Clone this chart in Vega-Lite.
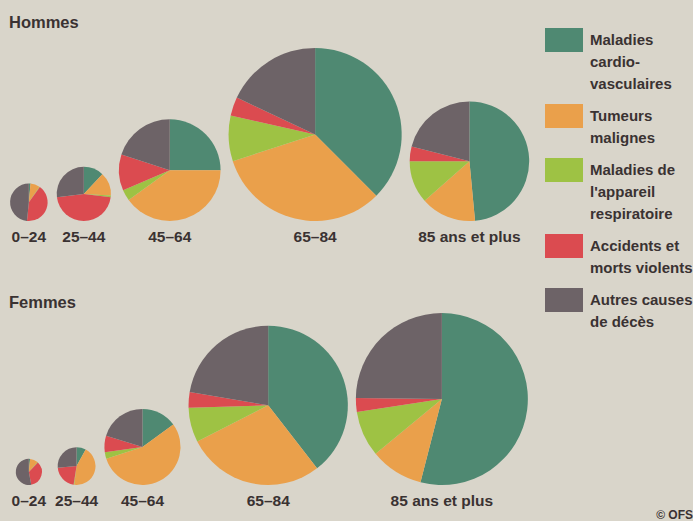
{
  "$schema": "https://vega.github.io/schema/vega-lite/v6.json",
  "background": "#d9d5ca",
  "padding": {"left": 9, "top": 14, "right": 0, "bottom": 0},
  "data": {"values": [
    {"sexe": "Hommes", "age": "0–24", "cause": "Maladies cardio-vasculaires", "deces": 10},
    {"sexe": "Hommes", "age": "0–24", "cause": "Tumeurs malignes", "deces": 56},
    {"sexe": "Hommes", "age": "0–24", "cause": "Maladies de l'appareil respiratoire", "deces": 4},
    {"sexe": "Hommes", "age": "0–24", "cause": "Accidents et morts violents", "deces": 291},
    {"sexe": "Hommes", "age": "0–24", "cause": "Autres causes de décès", "deces": 339},
    {"sexe": "Hommes", "age": "25–44", "cause": "Maladies cardio-vasculaires", "deces": 175},
    {"sexe": "Hommes", "age": "25–44", "cause": "Tumeurs malignes", "deces": 204},
    {"sexe": "Hommes", "age": "25–44", "cause": "Maladies de l'appareil respiratoire", "deces": 15},
    {"sexe": "Hommes", "age": "25–44", "cause": "Accidents et morts violents", "deces": 672},
    {"sexe": "Hommes", "age": "25–44", "cause": "Autres causes de décès", "deces": 394},
    {"sexe": "Hommes", "age": "45–64", "cause": "Maladies cardio-vasculaires", "deces": 1285},
    {"sexe": "Hommes", "age": "45–64", "cause": "Tumeurs malignes", "deces": 2056},
    {"sexe": "Hommes", "age": "45–64", "cause": "Maladies de l'appareil respiratoire", "deces": 180},
    {"sexe": "Hommes", "age": "45–64", "cause": "Accidents et morts violents", "deces": 591},
    {"sexe": "Hommes", "age": "45–64", "cause": "Autres causes de décès", "deces": 1028},
    {"sexe": "Hommes", "age": "65–84", "cause": "Maladies cardio-vasculaires", "deces": 5588},
    {"sexe": "Hommes", "age": "65–84", "cause": "Tumeurs malignes", "deces": 4842},
    {"sexe": "Hommes", "age": "65–84", "cause": "Maladies de l'appareil respiratoire", "deces": 1267},
    {"sexe": "Hommes", "age": "65–84", "cause": "Accidents et morts violents", "deces": 521},
    {"sexe": "Hommes", "age": "65–84", "cause": "Autres causes de décès", "deces": 2682},
    {"sexe": "Hommes", "age": "85 ans et plus", "cause": "Maladies cardio-vasculaires", "deces": 3444},
    {"sexe": "Hommes", "age": "85 ans et plus", "cause": "Tumeurs malignes", "deces": 1065},
    {"sexe": "Hommes", "age": "85 ans et plus", "cause": "Maladies de l'appareil respiratoire", "deces": 816},
    {"sexe": "Hommes", "age": "85 ans et plus", "cause": "Accidents et morts violents", "deces": 284},
    {"sexe": "Hommes", "age": "85 ans et plus", "cause": "Autres causes de décès", "deces": 1491},
    {"sexe": "Femmes", "age": "0–24", "cause": "Maladies cardio-vasculaires", "deces": 5},
    {"sexe": "Femmes", "age": "0–24", "cause": "Tumeurs malignes", "deces": 34},
    {"sexe": "Femmes", "age": "0–24", "cause": "Maladies de l'appareil respiratoire", "deces": 2},
    {"sexe": "Femmes", "age": "0–24", "cause": "Accidents et morts violents", "deces": 119},
    {"sexe": "Femmes", "age": "0–24", "cause": "Autres causes de décès", "deces": 180},
    {"sexe": "Femmes", "age": "25–44", "cause": "Maladies cardio-vasculaires", "deces": 57},
    {"sexe": "Femmes", "age": "25–44", "cause": "Tumeurs malignes", "deces": 312},
    {"sexe": "Femmes", "age": "25–44", "cause": "Maladies de l'appareil respiratoire", "deces": 4},
    {"sexe": "Femmes", "age": "25–44", "cause": "Accidents et morts violents", "deces": 149},
    {"sexe": "Femmes", "age": "25–44", "cause": "Autres causes de décès", "deces": 188},
    {"sexe": "Femmes", "age": "45–64", "cause": "Maladies cardio-vasculaires", "deces": 432},
    {"sexe": "Femmes", "age": "45–64", "cause": "Tumeurs malignes", "deces": 1584},
    {"sexe": "Femmes", "age": "45–64", "cause": "Maladies de l'appareil respiratoire", "deces": 81},
    {"sexe": "Femmes", "age": "45–64", "cause": "Accidents et morts violents", "deces": 199},
    {"sexe": "Femmes", "age": "45–64", "cause": "Autres causes de décès", "deces": 584},
    {"sexe": "Femmes", "age": "65–84", "cause": "Maladies cardio-vasculaires", "deces": 4985},
    {"sexe": "Femmes", "age": "65–84", "cause": "Tumeurs malignes", "deces": 3534},
    {"sexe": "Femmes", "age": "65–84", "cause": "Maladies de l'appareil respiratoire", "deces": 883},
    {"sexe": "Femmes", "age": "65–84", "cause": "Accidents et morts violents", "deces": 404},
    {"sexe": "Femmes", "age": "65–84", "cause": "Autres causes de décès", "deces": 2814},
    {"sexe": "Femmes", "age": "85 ans et plus", "cause": "Maladies cardio-vasculaires", "deces": 7943},
    {"sexe": "Femmes", "age": "85 ans et plus", "cause": "Tumeurs malignes", "deces": 1471},
    {"sexe": "Femmes", "age": "85 ans et plus", "cause": "Maladies de l'appareil respiratoire", "deces": 1265},
    {"sexe": "Femmes", "age": "85 ans et plus", "cause": "Accidents et morts violents", "deces": 382},
    {"sexe": "Femmes", "age": "85 ans et plus", "cause": "Autres causes de décès", "deces": 3649}
  ]},
  "transform": [
    {"joinaggregate": [{"op": "sum", "field": "deces", "as": "total"}, {"op": "count", "as": "n"}], "groupby": ["sexe", "age"]},
    {"calculate": "sqrt(datum.total)", "as": "s"},
    {"calculate": "max(2 * datum.s, 56)", "as": "slot"},
    {"calculate": "datum.slot / datum.n", "as": "dn"},
    {"window": [{"op": "sum", "field": "dn", "as": "cum"}, {"op": "dense_rank", "as": "rang"}], "groupby": ["sexe"], "sort": [{"field": "age", "order": "ascending"}], "frame": [null, 0], "ignorePeers": false},
    {"calculate": "datum.cum - datum.slot / 2 + 11.3 * (datum.rang - 1)", "as": "xc"},
    {"calculate": "indexof(['Maladies cardio-vasculaires', 'Tumeurs malignes', \"Maladies de l'appareil respiratoire\", 'Accidents et morts violents', 'Autres causes de décès'], datum.cause)", "as": "ordre"},
    {"stack": "deces", "groupby": ["sexe", "age"], "sort": [{"field": "ordre", "order": "ascending"}], "offset": "normalize", "as": ["t0", "t1"]}
  ],
  "vconcat": [
    {
      "transform": [{"filter": "datum.sexe == 'Hommes'"}],
      "title": {"text": "Hommes", "anchor": "start", "offset": 2, "fontSize": 16.5, "font": "Liberation Sans, Arial, sans-serif", "fontWeight": "bold", "color": "#3a3232"},
      "width": 530,
      "height": 188,
      "layer": [
        {
          "mark": {"type": "arc"},
          "encoding": {
            "x": {"field": "xc", "type": "quantitative", "scale": {"domain": [0, 747.5]}, "axis": null},
            "y": {"field": "s", "type": "quantitative", "scale": {"domain": [0, 265.2]}, "axis": null},
            "theta": {"field": "t0", "type": "quantitative", "stack": null, "scale": {"domain": [0, 1], "range": [0, 6.283185]}},
            "theta2": {"field": "t1"},
            "radius": {"field": "total", "type": "quantitative", "scale": {"type": "sqrt", "domain": [0, 15000], "range": [0, 86.84], "zero": true}},
            "color": {"field": "cause", "type": "nominal",
              "scale": {"domain": ["Maladies cardio-vasculaires", "Tumeurs malignes", "Maladies de l'appareil respiratoire", "Accidents et morts violents", "Autres causes de décès"],
                        "range": ["#4f8972", "#eaa04b", "#9ec244", "#db4b50", "#6d6367"]},
              "legend": {"title": null, "orient": "none", "legendX": 536, "legendY": -12,
                "symbolType": "M-1,-0.63H1V0.63H-1Z", "symbolSize": 1444, "symbolStrokeWidth": 0,
                "labelFont": "Liberation Sans, Arial, sans-serif", "labelFontSize": 15, "labelFontWeight": "bold", "labelColor": "#3a3232",
                "labelOffset": 7, "rowPadding": 5, "labelLimit": 200,
                "encode": {"labels": {"update": {"lineHeight": {"value": 22}}}},
                "labelExpr": "datum.label == 'Maladies cardio-vasculaires' ? ['Maladies', 'cardio-', 'vasculaires'] : datum.label == 'Tumeurs malignes' ? ['Tumeurs', 'malignes'] : datum.label == 'Accidents et morts violents' ? ['Accidents et', 'morts violents'] : datum.label == 'Autres causes de décès' ? ['Autres causes', 'de décès'] : ['Maladies de', \"l'appareil\", 'respiratoire']"}
            }
          }
        },
        {
          "transform": [{"filter": "datum.ordre == 0"}],
          "mark": {"type": "text", "dy": 16, "align": "center", "baseline": "middle", "fontSize": 15.5, "fontWeight": "bold", "font": "Liberation Sans, Arial, sans-serif", "color": "#3a3232"},
          "encoding": {
            "x": {"field": "xc", "type": "quantitative", "scale": {"domain": [0, 747.5]}, "axis": null},
            "y": {"datum": 0, "type": "quantitative", "scale": {"domain": [0, 265.2]}, "axis": null},
            "text": {"field": "age"}
          }
        }
      ]
    },
    {
      "transform": [{"filter": "datum.sexe == 'Femmes'"}],
      "title": {"text": "Femmes", "anchor": "start", "offset": 2, "fontSize": 16.5, "font": "Liberation Sans, Arial, sans-serif", "fontWeight": "bold", "color": "#3a3232"},
      "width": 530,
      "height": 172,
      "layer": [
        {
          "mark": {"type": "arc"},
          "encoding": {
            "x": {"field": "xc", "type": "quantitative", "scale": {"domain": [0, 747.5]}, "axis": null},
            "y": {"field": "s", "type": "quantitative", "scale": {"domain": [0, 242.6]}, "axis": null},
            "theta": {"field": "t0", "type": "quantitative", "stack": null, "scale": {"domain": [0, 1], "range": [0, 6.283185]}},
            "theta2": {"field": "t1"},
            "radius": {"field": "total", "type": "quantitative", "scale": {"type": "sqrt", "domain": [0, 15000], "range": [0, 86.84], "zero": true}},
            "color": {"field": "cause", "type": "nominal",
              "scale": {"domain": ["Maladies cardio-vasculaires", "Tumeurs malignes", "Maladies de l'appareil respiratoire", "Accidents et morts violents", "Autres causes de décès"],
                        "range": ["#4f8972", "#eaa04b", "#9ec244", "#db4b50", "#6d6367"]},
              "legend": {"title": null, "orient": "none", "legendX": 536, "legendY": -12,
                "symbolType": "M-1,-0.63H1V0.63H-1Z", "symbolSize": 1444, "symbolStrokeWidth": 0,
                "labelFont": "Liberation Sans, Arial, sans-serif", "labelFontSize": 15, "labelFontWeight": "bold", "labelColor": "#3a3232",
                "labelOffset": 7, "rowPadding": 5, "labelLimit": 200,
                "encode": {"labels": {"update": {"lineHeight": {"value": 22}}}},
                "labelExpr": "datum.label == 'Maladies cardio-vasculaires' ? ['Maladies', 'cardio-', 'vasculaires'] : datum.label == 'Tumeurs malignes' ? ['Tumeurs', 'malignes'] : datum.label == 'Accidents et morts violents' ? ['Accidents et', 'morts violents'] : datum.label == 'Autres causes de décès' ? ['Autres causes', 'de décès'] : ['Maladies de', \"l'appareil\", 'respiratoire']"}
            }
          }
        },
        {
          "transform": [{"filter": "datum.ordre == 0"}],
          "mark": {"type": "text", "dy": 16, "align": "center", "baseline": "middle", "fontSize": 15.5, "fontWeight": "bold", "font": "Liberation Sans, Arial, sans-serif", "color": "#3a3232"},
          "encoding": {
            "x": {"field": "xc", "type": "quantitative", "scale": {"domain": [0, 747.5]}, "axis": null},
            "y": {"datum": 0, "type": "quantitative", "scale": {"domain": [0, 242.6]}, "axis": null},
            "text": {"field": "age"}
          }
        }
      ]
    }
  ],
  "spacing": 48,
  "resolve": {"scale": {"y": "independent"}},
  "title": {"text": "© OFS", "orient": "bottom", "anchor": "end", "frame": "bounds", "offset": 0, "fontSize": 12, "font": "Liberation Sans, Arial, sans-serif", "fontWeight": "bold", "color": "#3a3232"},
  "config": {"view": {"stroke": null}}
}
